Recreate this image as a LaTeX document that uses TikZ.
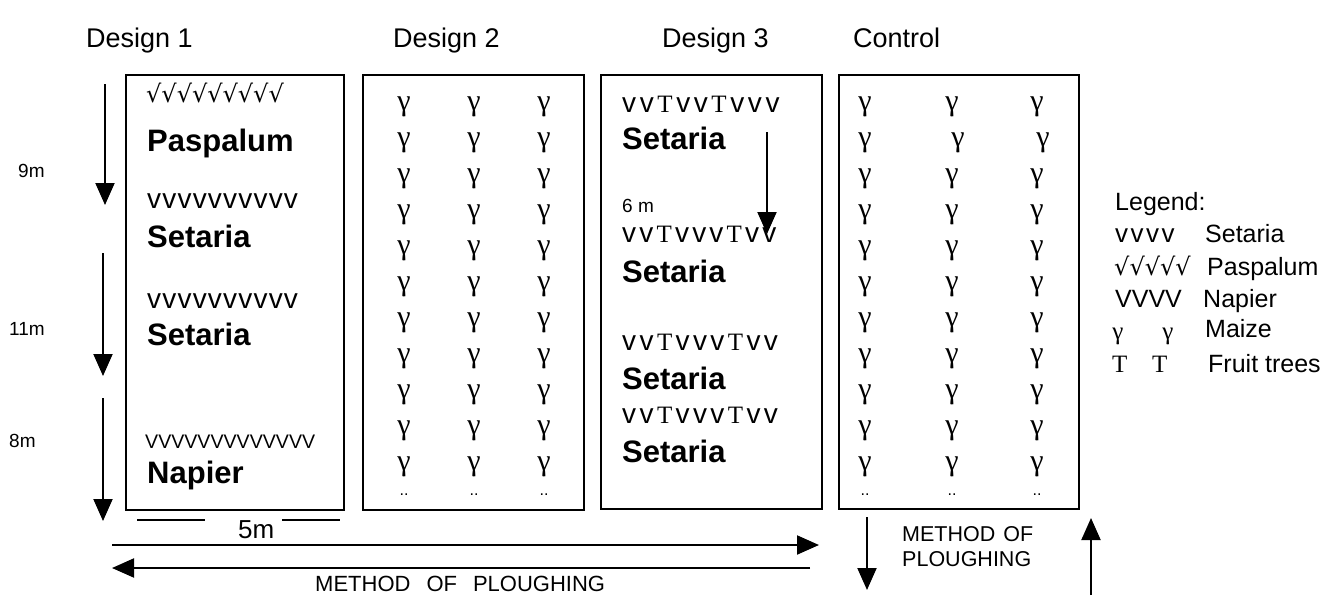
\documentclass[tikz,border=0pt]{standalone}
\usepackage{fontspec}
\setmainfont{Liberation Sans}
\newfontfamily\seriffont{Liberation Serif}
\newfontfamily\djfont{DejaVu Sans}
\usetikzlibrary{arrows.meta}
\makeatletter
\newcommand\spaced[2]{\@tfor\sp@ch:=#2\do{\sp@ch\kern#1}\unkern}
\makeatother
\newcommand\fs[1]{\fontsize{#1}{#1}\selectfont}
\newcommand\TT{{\seriffont\fs{25}T}}
\begin{document}
\begin{tikzpicture}[x=1pt,y=-1pt,
  box/.style={draw, line width=1.5pt, inner sep=0, anchor=north west},
  lbl/.style={inner sep=0, anchor=base west},
  ttl/.style={lbl, font=\fs{27}},
  bold/.style={lbl, font=\bfseries\fs{31}},
  num/.style={lbl, font=\fs{19}},
  leg/.style={lbl, font=\fs{25}},
  gam/.style={inner sep=0, font=\seriffont\fs{30}},
  dots/.style={inner sep=0, font=\fs{16}},
  arr/.style={line width=2pt, -{Triangle[length=22pt,width=19pt]}},
  rule/.style={line width=1.5pt}]
\useasboundingbox (0,0) rectangle (1331,595);

% titles
\node[ttl] (t1) at (86,47) {Design 1};
\node[ttl] (t2) at (393,47) {Design 2};
\node[ttl] (t3) at (662,47) {Design 3};
\node[ttl] (t4) at (853,47) {Control};

% boxes
\node[box, minimum width=218pt, minimum height=435pt] (d1) at (125,74) {};
\node[box, minimum width=221pt, minimum height=435pt] (d2) at (362,74) {};
\node[box, minimum width=221pt, minimum height=434pt] (d3) at (600,74) {};
\node[box, minimum width=240pt, minimum height=434pt] (d4) at (838,74) {};

% design 1 content
\node[lbl, font=\djfont\fs{24}] (p1) at (146,102) {√√√√√√√√√};
\node[bold] (p2) at (147,151) {Paspalum};
\node[lbl, font=\fs{28}] (s1) at (147,208) {\spaced{1.2pt}{vvvvvvvvvv}};
\node[bold] (s2) at (147,247) {Setaria};
\node[lbl, font=\fs{28}] (s3) at (147,308) {\spaced{1.2pt}{vvvvvvvvvv}};
\node[bold] (s4) at (147,345) {Setaria};
\node[lbl, font=\fs{19.6}] (n1) at (145,448) {VVVVVVVVVVVVV};
\node[bold] (n2) at (147,483) {Napier};

% left arrows and labels
\coordinate (a1s) at (105,84);  \coordinate (a1e) at (105,205);
\coordinate (a2s) at (103,253); \coordinate (a2e) at (103,376);
\coordinate (a3s) at (103,398); \coordinate (a3e) at (103,521);
\draw[arr] (a1s) -- (a1e);
\draw[arr] (a2s) -- (a2e);
\draw[arr] (a3s) -- (a3e);
\node[num] (m9) at (18,177) {9m};
\node[num] (m11) at (9,335) {11m};
\node[num] (m8) at (9,447) {8m};

% 5m
\node[lbl, font=\fs{26}] (m5) at (238,538) {5m};
\coordinate (l1a) at (137,520); \coordinate (l1b) at (205,520);
\coordinate (l2a) at (282,520); \coordinate (l2b) at (340,520);
\draw[rule] (l1a) -- (l1b);
\draw[rule] (l2a) -- (l2b);

% long arrows
\coordinate (h1s) at (112,545); \coordinate (h1e) at (819,545);
\coordinate (h2s) at (810,568); \coordinate (h2e) at (112,568);
\draw[arr] (h1s) -- (h1e);
\draw[arr] (h2s) -- (h2e);
\node[lbl, font=\fs{22}] (mp1) at (315,591) {METHOD\hspace{16pt}OF\hspace{16pt}PLOUGHING};

% right method arrows
\coordinate (v1s) at (867,517); \coordinate (v1e) at (867,590);
\coordinate (v2s) at (1091,595); \coordinate (v2e) at (1091,518);
\draw[arr] (v1s) -- (v1e);
\draw[arr] (v2s) -- (v2e);
\node[lbl, font=\fs{21.5}] (mp2) at (902,541) {METHOD\hspace{8pt}OF};
\node[lbl, font=\fs{21.5}] (mp3) at (902,566) {PLOUGHING};

% design 2 maize
\foreach \i in {0,...,10}{
  \foreach \x/\j in {404/a,474/b,544/c}{
    \node[gam] (g2\j\i) at (\x,{107+36*\i}) {γ};
  }
}
\foreach \x/\j in {404/a,474/b,544/c}{\node[dots] (dd2\j) at (\x,495) {..};}

% control maize
\foreach \i in {0,2,3,4,5,6,7,8,9,10}{
  \foreach \x/\j in {865/a,952/b,1037/c}{
    \node[gam] (g4\j\i) at (\x,{107+36*\i}) {γ};
  }
}
\node[gam] (g4a1) at (865,143) {γ};
\node[gam] (g4b1) at (958,143) {γ};
\node[gam] (g4c1) at (1043,143) {γ};
\foreach \x/\j in {865/a,952/b,1037/c}{\node[dots] (dd4\j) at (\x,495) {..};}

% design 3 content
\node[lbl, font=\fs{28}] (r1) at (622,112) {\spaced{3.6pt}{vv\TT vv\TT vvv}};
\node[bold] (r2) at (622,149) {Setaria};
\node[num] (m6) at (622,212) {6 m};
\node[lbl, font=\fs{28}] (r3) at (622,242) {\spaced{3.2pt}{vv\TT vvv\TT vv}};
\node[bold] (r4) at (622,282) {Setaria};
\node[lbl, font=\fs{28}] (r5) at (622,350) {\spaced{3.4pt}{vv\TT vvv\TT vv}};
\node[bold] (r6) at (622,389) {Setaria};
\node[lbl, font=\fs{28}] (r7) at (622,423) {\spaced{3.4pt}{vv\TT vvv\TT vv}};
\node[bold] (r8) at (622,462) {Setaria};
\coordinate (b1s) at (767,132); \coordinate (b1e) at (767,234);
\draw[arr] (b1s) -- (b1e);

% legend
\node[leg] (lg) at (1115,210) {Legend:};
\node[lbl, font=\fs{26}] (ls1) at (1115,242) {\spaced{2.5pt}{vvvv}};
\node[leg] (lt1) at (1205,242) {Setaria};
\node[lbl, font=\djfont\fs{24}] (ls2) at (1114,275) {√√√√√};
\node[leg] (lt2) at (1207,275) {Paspalum};
\node[leg] (ls3) at (1115,307) {VVVV};
\node[leg] (lt3) at (1203,307) {Napier};
\node[gam, font=\seriffont\fs{25}] (lg1) at (1118,336) {γ};
\node[gam, font=\seriffont\fs{25}] (lg2) at (1168,336) {γ};
\node[leg] (lt4) at (1205,337) {Maize};
\node[lbl, font=\seriffont\fs{25}] (lT1) at (1112,372) {T};
\node[lbl, font=\seriffont\fs{25}] (lT2) at (1152,372) {T};
\node[leg] (lt5) at (1208,372) {Fruit trees};
\end{tikzpicture}
\end{document}
